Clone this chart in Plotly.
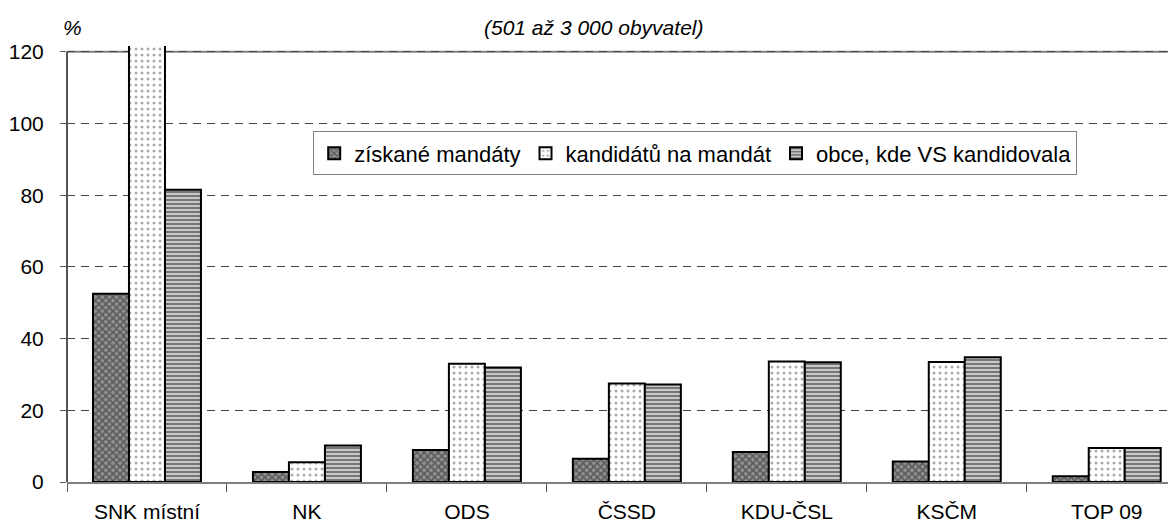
import plotly.graph_objects as go

categories = ["SNK místní", "NK", "ODS", "ČSSD", "KDU-ČSL", "KSČM", "TOP 09"]
ziskane_mandaty = [52.5, 2.8, 8.9, 6.5, 8.4, 5.7, 1.6]
kandidatu_na_mandat = [125.0, 5.5, 33.0, 27.5, 33.6, 33.5, 9.5]
obce_kde_vs_kandidovala = [81.5, 10.2, 31.9, 27.2, 33.4, 34.8, 9.5]
series_names = ["získané mandáty", "kandidátů na mandát", "obce, kde VS kandidovala"]
y_ticks = [0, 20, 40, 60, 80, 100, 120]

FONT = "Liberation Sans, Arial, sans-serif"
FS = 21

fig = go.Figure()
fig.add_trace(go.Bar(
    x=categories, y=ziskane_mandaty, name=series_names[0],
    marker=dict(color="#8a8a8a", line=dict(color="black", width=2),
                pattern=dict(shape="x", fgcolor="#222222", bgcolor="#909090", size=5, solidity=0.5)),
))
fig.add_trace(go.Bar(
    x=categories, y=kandidatu_na_mandat, name=series_names[1],
    marker=dict(color="white", line=dict(color="black", width=2),
                pattern=dict(shape=".", fgcolor="#555555", bgcolor="white", size=6, solidity=0.2)),
))
fig.add_trace(go.Bar(
    x=categories, y=obce_kde_vs_kandidovala, name=series_names[2],
    marker=dict(color="#bbbbbb", line=dict(color="black", width=2),
                pattern=dict(shape="-", fgcolor="#111111", bgcolor="#c8c8c8", size=4, solidity=0.45)),
))

fig.update_layout(
    width=1168, height=518,
    margin=dict(l=59, r=0, t=38, b=44),
    paper_bgcolor="white", plot_bgcolor="white",
    barmode="group", bargap=0.325, bargroupgap=0,
    font=dict(family=FONT, size=FS, color="black"),
    showlegend=True,
    legend=dict(orientation="h", x=0.222, xanchor="left", y=0.703, yanchor="bottom",
                bordercolor="#808080", borderwidth=1, bgcolor="white",
                font=dict(family=FONT, size=22), itemwidth=30,
                traceorder="normal"),
    xaxis=dict(range=[-0.5, 6.433], showline=True, linecolor="#808080", linewidth=2,
               ticks="outside", tickson="boundaries", ticklen=8, tickcolor="#555555",
               ticklabelstandoff=10,
               showgrid=False, tickfont=dict(size=FS), fixedrange=True),
    yaxis=dict(range=[0, 121.6], tickvals=y_ticks, showline=False, zeroline=False,
               ticks="outside", ticklen=6, tickcolor="#555555",
               showgrid=True, gridcolor="#444444", gridwidth=1, griddash="8px,6px",
               ticklabelstandoff=12, tickfont=dict(size=FS), fixedrange=True),
    shapes=[
        dict(type="line", xref="paper", yref="y", x0=0, x1=1, y0=120, y1=120,
             line=dict(color="#808080", width=2), layer="between"),
        dict(type="line", xref="paper", yref="y", x0=0, x1=0, y0=0, y1=120,
             line=dict(color="#555555", width=2), layer="above"),
    ],
    annotations=[
        dict(text="<i>%</i>", xref="paper", yref="paper", x=0.005, y=1.042,
             xanchor="center", yanchor="middle", showarrow=False, font=dict(size=FS)),
        dict(text="<i>(501 až 3 000 obyvatel)</i>", xref="paper", yref="paper", x=0.475, y=1.042,
             xanchor="center", yanchor="middle", showarrow=False, font=dict(size=FS)),
    ],
)

fig.write_html("out.html")
